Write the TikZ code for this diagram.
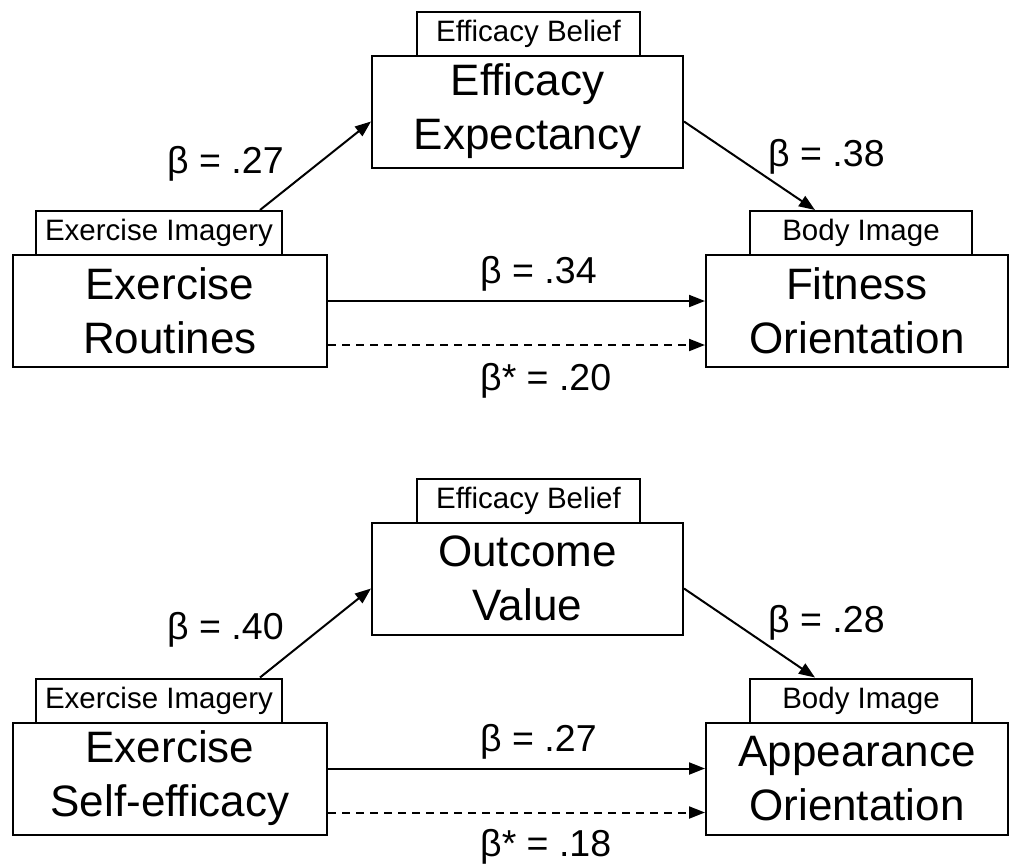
\documentclass[tikz,border=0pt]{standalone}
\usepackage{fontspec}
\setmainfont{Liberation Sans}
\usetikzlibrary{arrows.meta}
\begin{document}
\begin{tikzpicture}[x=1pt,y=-1pt,
  big/.style={draw,line width=2pt,inner sep=0pt,align=center,font=\fontsize{44}{54}\selectfont,minimum height=112pt},
  tag/.style={draw,line width=2pt,inner sep=0pt,font=\fontsize{29.5}{33}\selectfont,minimum height=44pt},
  coef/.style={font=\fontsize{37.5}{44}\selectfont,inner sep=0pt,anchor=base west},
  arr/.style={line width=2pt,-{Triangle[length=16pt,width=12pt]}},
  darr/.style={arr,dash pattern=on 8pt off 6pt}]
\useasboundingbox (0,0) rectangle (1010,868);
% top model
\node[tag,minimum width=223pt] (belA) at (528.5,33.5) {Efficacy Belief};
\node[big,minimum width=311pt] (effA) at (527.5,111.5) {Efficacy\\Expectancy};
\node[tag,minimum width=246pt] (imgA) at (159,233) {Exercise Imagery};
\node[big,minimum width=314pt] (routA) at (170,311) {Exercise\\Routines};
\node[tag,minimum width=222pt] (bodyA) at (861,233) {Body Image};
\node[big,minimum width=302pt] (fitA) at (857,311) {Fitness\\Orientation};
\draw[arr] ([xshift=101pt]imgA.north) -- ([yshift=-10pt]effA.west);
\draw[arr] ([yshift=-10pt]effA.east) -- ([xshift=-46pt]bodyA.north);
\draw[arr] ([yshift=10pt]routA.east) -- ([yshift=10pt]fitA.west);
\draw[darr] ([yshift=-34pt]routA.east) -- ([yshift=-34pt]fitA.west);
\node[coef] (cA1) at (167,173) {β = .27};
\node[coef] (cA2) at (768,166) {β = .38};
\node[coef] (cA3) at (480,283) {β = .34};
\node[coef] (cA4) at (480,390) {β* = .20};
% bottom model
\node[tag,minimum width=223pt] (belB) at (528.5,500.5) {Efficacy Belief};
\node[big,minimum width=311pt] (effB) at (527.5,578.5) {Outcome\\Value};
\node[tag,minimum width=246pt] (imgB) at (159,700.5) {Exercise Imagery};
\node[big,minimum width=314pt] (routB) at (170,778.5) {Exercise\\Self-efficacy};
\node[tag,minimum width=222pt] (bodyB) at (861,700.5) {Body Image};
\node[big,minimum width=302pt] (fitB) at (857,778.5) {Appearance\\Orientation};
\draw[arr] ([xshift=101pt]imgB.north) -- ([yshift=-10pt]effB.west);
\draw[arr] ([yshift=-10pt]effB.east) -- ([xshift=-46pt]bodyB.north);
\draw[arr] ([yshift=10pt]routB.east) -- ([yshift=10pt]fitB.west);
\draw[darr] ([yshift=-34pt]routB.east) -- ([yshift=-34pt]fitB.west);
\node[coef] (cB1) at (167,639) {β = .40};
\node[coef] (cB2) at (768,632) {β = .28};
\node[coef] (cB3) at (480,751) {β = .27};
\node[coef] (cB4) at (480,856) {β* = .18};
\end{tikzpicture}
\end{document}
